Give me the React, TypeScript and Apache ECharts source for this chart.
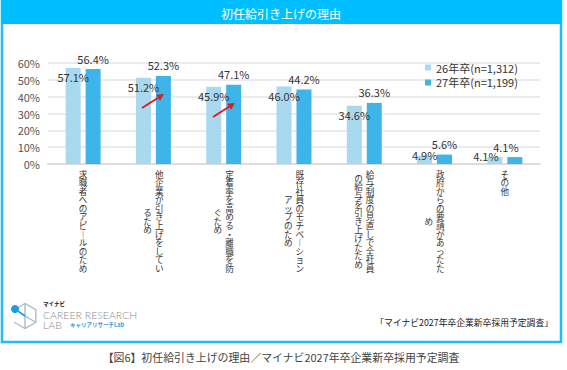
import React, { useEffect, useRef } from 'react';
import * as echarts from 'echarts';

const categories = [
  '求職者へのアピールのため',
  '他企業が引き上げをしているため',
  '定着率を高める・離職を防ぐため',
  '既存社員のモチベーションアップのため',
  '給与制度の見直しで全社員の給与を引き上げたため',
  '政府からの要請があったため',
  'その他',
];
const values26 = [57.1, 51.2, 45.9, 46.0, 34.6, 4.9, 4.1];
const values27 = [56.4, 52.3, 47.1, 44.2, 36.3, 5.6, 4.1];
const seriesNames = ['26年卒(n=1,312)', '27年卒(n=1,199)'];
const yMax = 60;
const yInterval = 10;

const titleText = '初任給引き上げの理由';
const sourceText = '「マイナビ2027年卒企業新卒採用予定調査」';
const captionText = '【図6】初任給引き上げの理由／マイナビ2027年卒企業新卒採用予定調査';

const FONT = '"Noto Sans CJK JP", "Noto Sans", sans-serif';
const LIGHT = '#A9D9EE';
const DARK = '#3DB5E9';
const FRAME = '#1CBEF5';

const COL_LEN = 12;
const CH_SIZE = 8.6;
const ROW = 8.6;

function splitCols(s: string) {
  const chars = Array.from(s).map((c) => (c === 'ー' ? '︱' : c));
  return { col1: chars.slice(0, COL_LEN), col2: chars.slice(COL_LEN) };
}
// first column of single-column labels (centered)
function labelSingle(s: string): string {
  const { col1, col2 } = splitCols(s);
  return col2.length ? '' : col1.join('\n');
}
// first (right) column of two-column labels
function labelRight(s: string): string {
  const { col1, col2 } = splitCols(s);
  return col2.length ? col1.join('\n') : '';
}
// second (left) column, vertically centred against the first, in half-row steps
function labelLeft(s: string): string {
  const { col1, col2 } = splitCols(s);
  if (!col2.length) return '';
  const start = col1.length - col2.length;
  const lines: string[] = [];
  for (let r = 0; r < start + 2 * col2.length - 1; r++) {
    const k = r - start;
    lines.push(k >= 0 && k % 2 === 0 ? col2[k / 2] : '');
  }
  return lines.join('\n');
}

function arrow(x1: number, y1: number, x2: number, y2: number, color: string) {
  const dx = x2 - x1;
  const dy = y2 - y1;
  const len = Math.sqrt(dx * dx + dy * dy);
  const ux = dx / len;
  const uy = dy / len;
  const hl = 7;
  const hw = 3.5;
  const bx = x2 - ux * hl;
  const by = y2 - uy * hl;
  return [
    { type: 'line', shape: { x1, y1, x2: bx, y2: by }, style: { stroke: color, lineWidth: 2 }, z: 20 },
    {
      type: 'polygon',
      shape: { points: [[x2, y2], [bx - uy * hw, by + ux * hw], [bx + uy * hw, by - ux * hw]] },
      style: { fill: color },
      z: 20,
    },
  ];
}

export default function App() {
  const ref = useRef<HTMLDivElement>(null);
  useEffect(() => {
    if (!ref.current) return;
    const chart = echarts.init(ref.current, undefined, { renderer: 'svg' });
    const last = categories.length - 1;

    const data26 = values26.map((v, i) => ({
      value: v,
      label:
        v < 10
          ? { position: 'top', distance: -4.5, offset: [i === last ? -9 : 0, 0] }
          : { position: 'insideTop', distance: 4 },
    }));
    const data27 = values27.map((v, i) => ({
      value: v,
      label: { position: 'top', distance: 5, offset: [i === last ? -9 : 0, 0] },
    }));

    const hex = (cx: number, cy: number, r: number) => {
      const pts: number[][] = [];
      for (let k = 0; k < 6; k++) {
        const a = (Math.PI / 3) * k - Math.PI / 2;
        pts.push([cx + r * Math.cos(a), cy + r * Math.sin(a)]);
      }
      return pts;
    };
    const hp = hex(25, 316, 12.5);

    const baseLabel = { interval: 0, fontSize: CH_SIZE, color: '#333', fontFamily: FONT };
    const hiddenAxis = {
      type: 'category',
      data: categories,
      position: 'bottom',
      axisLine: { show: false },
      axisTick: { show: false },
      splitLine: { show: false },
    };

    chart.setOption({
      animation: false,
      textStyle: { fontFamily: FONT },
      grid: { left: 48, right: 27, top: 63, bottom: 206, containLabel: false },
      legend: {
        data: seriesNames,
        orient: 'vertical',
        left: 425,
        top: 62,
        itemWidth: 6,
        itemHeight: 6,
        itemGap: 4,
        icon: 'rect',
        padding: 0,
        textStyle: { fontSize: 11, color: '#333', fontFamily: FONT },
      },
      xAxis: [
        {
          type: 'category',
          data: categories,
          position: 'bottom',
          axisTick: { show: false },
          axisLine: { lineStyle: { color: '#dcdcdc', width: 2 } },
          axisLabel: { ...baseLabel, formatter: (v: string) => labelSingle(v), lineHeight: ROW, margin: 5.2 },
        },
        {
          ...hiddenAxis,
          axisLabel: {
            ...baseLabel,
            formatter: (v: string) => labelRight(v),
            lineHeight: ROW,
            margin: 5.2,
            align: 'left',
            padding: [0, 0, 0, 1.5],
          },
        },
        {
          ...hiddenAxis,
          axisLabel: {
            ...baseLabel,
            formatter: (v: string) => labelLeft(v),
            lineHeight: ROW / 2,
            margin: 7.35,
            align: 'right',
            padding: [0, 1.5, 0, 0],
          },
        },
      ],
      yAxis: {
        type: 'value',
        min: 0,
        max: yMax,
        interval: yInterval,
        axisLine: { show: false },
        axisTick: { show: false },
        axisLabel: { formatter: '{value}%', fontSize: 11, color: '#555', margin: 8, fontFamily: FONT },
        splitLine: { lineStyle: { color: '#e4e4e4', width: 1.5 } },
      },
      series: [
        {
          name: seriesNames[0],
          type: 'bar',
          xAxisIndex: 0,
          data: data26,
          barWidth: 15,
          barGap: '33%',
          itemStyle: { color: LIGHT },
          label: {
            show: true,
            formatter: (p: any) => Number(p.value).toFixed(1) + '%',
            fontSize: 11,
            color: '#333',
            fontFamily: FONT,
          },
        },
        {
          name: seriesNames[1],
          type: 'bar',
          xAxisIndex: 0,
          data: data27,
          barWidth: 15,
          itemStyle: { color: DARK },
          label: {
            show: true,
            formatter: (p: any) => Number(p.value).toFixed(1) + '%',
            fontSize: 11,
            color: '#333',
            fontFamily: FONT,
          },
        },
      ],
      graphic: [
        {
          type: 'rect',
          shape: { x: 2, y: 1, width: 559, height: 341 },
          style: { fill: 'none', stroke: FRAME, lineWidth: 2.5 },
          z: 0,
        },
        { type: 'rect', shape: { x: 1, y: 0, width: 561, height: 24 }, style: { fill: '#00BFFF' }, z: 1 },
        {
          type: 'text',
          x: 281,
          y: 13,
          style: { text: titleText, fill: '#ffffff', fontSize: 12, fontFamily: FONT, align: 'center', verticalAlign: 'middle' },
          z: 2,
        },
        ...arrow(142, 108, 164, 94, '#E01B1B'),
        ...arrow(213, 117, 235, 103, '#E01B1B'),
        {
          type: 'polyline',
          shape: { points: [hp[5], hp[0], hp[1], hp[2], hp[3], hp[4]] },
          style: { stroke: '#A9BDCB', lineWidth: 1.4, fill: 'none' },
          z: 5,
        },
        {
          type: 'polyline',
          shape: { points: [hp[0], [25, 316], hp[2]] },
          style: { stroke: '#A9BDCB', lineWidth: 1.4, fill: 'none' },
          z: 5,
        },
        { type: 'line', shape: { x1: 25, y1: 316, x2: 25, y2: 329 }, style: { stroke: '#A9BDCB', lineWidth: 1.4 }, z: 5 },
        { type: 'line', shape: { x1: 15, y1: 309, x2: 25, y2: 316 }, style: { stroke: '#1C9CDD', lineWidth: 1.6 }, z: 6 },
        { type: 'circle', shape: { cx: 15, cy: 309, r: 4 }, style: { fill: '#1C9CDD' }, z: 6 },
        {
          type: 'text',
          x: 43,
          y: 304,
          style: { text: 'マイナビ', fill: '#222', fontSize: 5.5, fontWeight: 'bold', fontFamily: FONT, verticalAlign: 'middle' },
          z: 5,
        },
        {
          type: 'text',
          x: 43,
          y: 314.5,
          style: { text: 'CAREER RESEARCH', fill: '#8c8c8c', fontSize: 10.5, fontWeight: 300, fontFamily: 'Lato, "Noto Sans", sans-serif', verticalAlign: 'middle' },
          z: 5,
        },
        {
          type: 'text',
          x: 43,
          y: 324.5,
          style: { text: 'LAB', fill: '#8c8c8c', fontSize: 10.5, fontWeight: 300, fontFamily: 'Lato, "Noto Sans", sans-serif', verticalAlign: 'middle' },
          z: 5,
        },
        {
          type: 'text',
          x: 70,
          y: 325,
          style: { text: 'キャリアリサーチLab', fill: '#2A9FE0', fontSize: 5.5, fontWeight: 'bold', fontFamily: FONT, verticalAlign: 'middle' },
          z: 5,
        },
        {
          type: 'text',
          x: 553,
          y: 322,
          style: { text: sourceText, fill: '#222', fontSize: 8.8, fontFamily: FONT, align: 'right', verticalAlign: 'middle' },
          z: 5,
        },
        {
          type: 'text',
          x: 281,
          y: 357,
          style: { text: captionText, fill: '#444', fontSize: 10.9, fontFamily: FONT, align: 'center', verticalAlign: 'middle' },
          z: 5,
        },
      ],
    });
    return () => chart.dispose();
  }, []);
  return (
    <div ref={ref} style={{ position: 'absolute', left: 0, top: 0, width: 567, height: 370, background: '#fff' }} />
  );
}
